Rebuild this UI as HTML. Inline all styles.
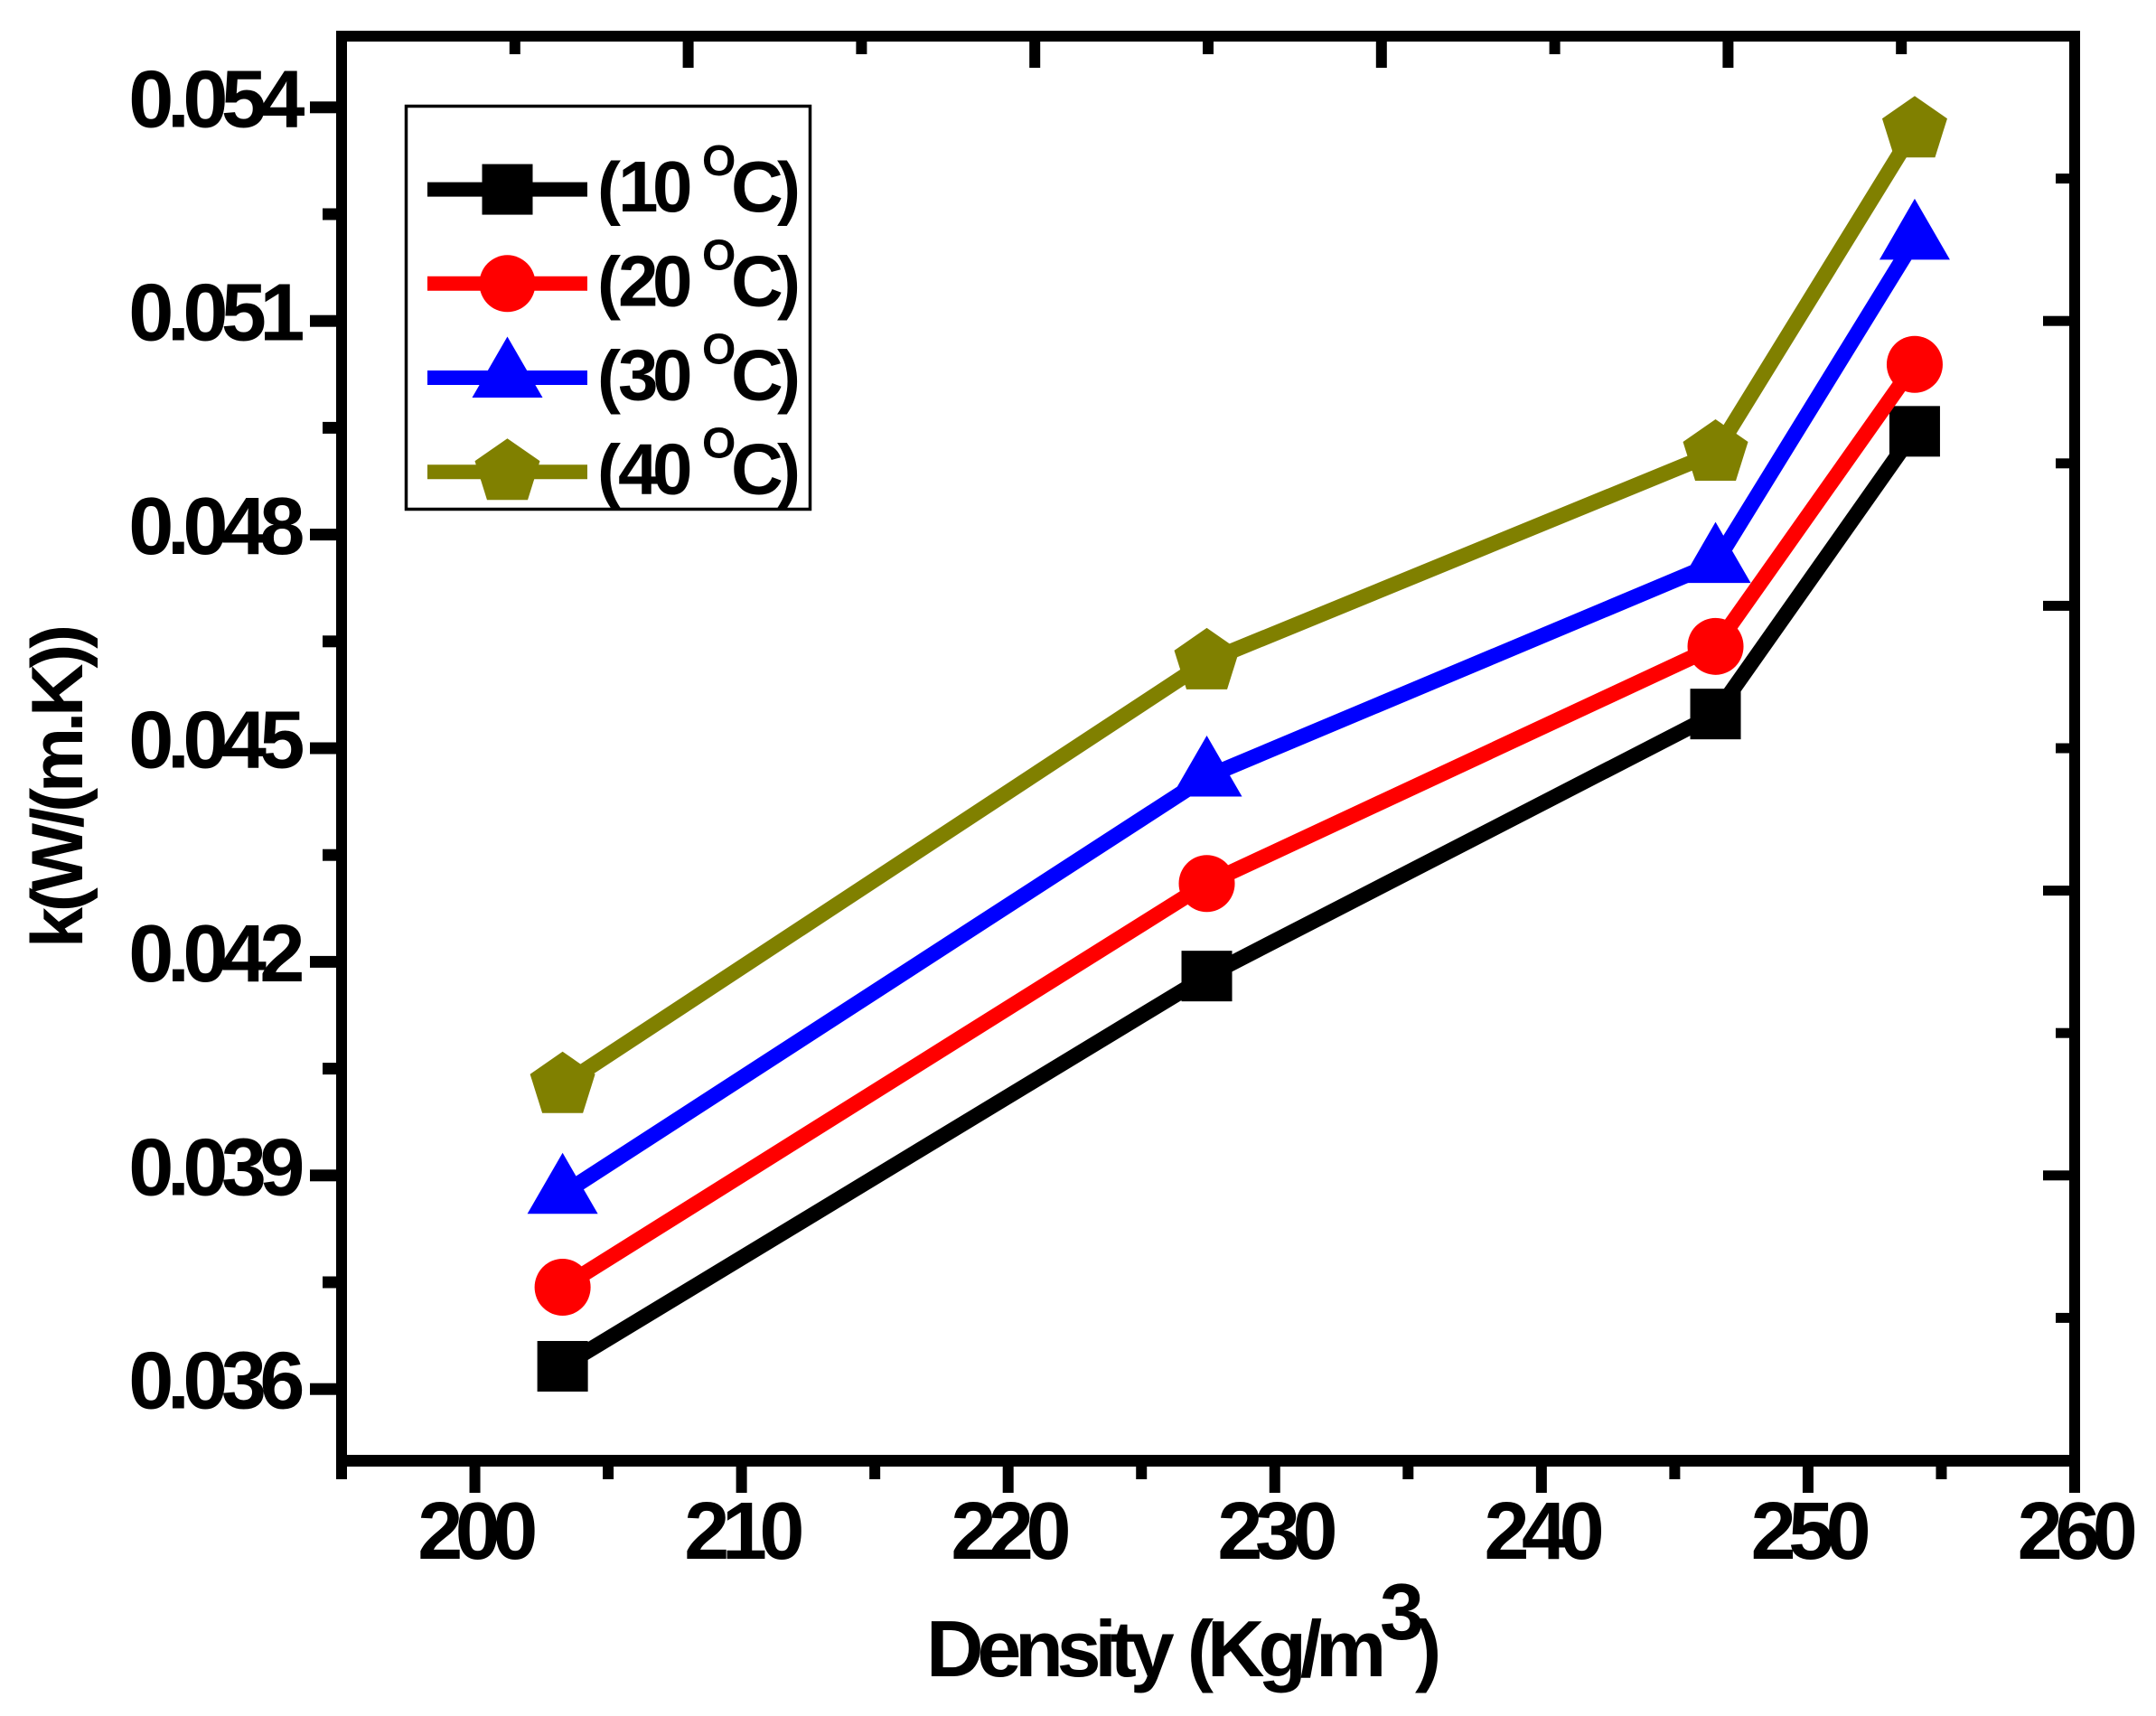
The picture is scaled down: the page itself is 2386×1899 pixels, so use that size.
<!DOCTYPE html>
<html lang="en">
<head>
<meta charset="utf-8">
<title>Thermal conductivity vs density</title>
<style>
html,body{margin:0;padding:0;background:#fff;}
svg{display:block;}
text{font-family:"Liberation Sans",Arial,sans-serif;font-weight:bold;fill:#000;font-kerning:none;}
</style>
</head>
<body>
<svg id="chart" xmlns="http://www.w3.org/2000/svg" width="2386" height="1899" viewBox="0 0 2386 1899">
<rect x="0" y="0" width="2386" height="1899" fill="#fff"/>
<g id="series-layer"></g>
<g id="axes-layer"></g>
<g id="legend-layer">
<rect x="449.5" y="117.5" width="447" height="446" fill="none" stroke="#000" stroke-width="3.5"/>
</g>
<text transform="translate(91,1049) rotate(-90)" font-size="81" letter-spacing="-5.2">k(W/(m.K))</text>
<g>
<text x="1025" y="1855" font-size="88" letter-spacing="-7.2">Density <tspan dx="4">(Kg/m</tspan></text>
<text x="1527" y="1814" font-size="88">3</text>
<text x="1566" y="1855" font-size="88">)</text>
</g>
</svg>
<script>
const densities = [203.29, 227.45, 246.53, 254.0];
const k10 = [0.03632, 0.0418, 0.04548, 0.04945];
const k20 = [0.03743, 0.0431, 0.04643, 0.05039];
const k30 = [0.03874, 0.0446, 0.0476, 0.05214];
const k40 = [0.04027, 0.04622, 0.04915, 0.05369];
const seriesLabels = ["10", "20", "30", "40"];
const xMajorTicks = [200, 210, 220, 230, 240, 250, 260];
const xMinorTicks = [195, 205, 215, 225, 235, 245, 255];
const yMajorTicks = [0.036, 0.039, 0.042, 0.045, 0.048, 0.051, 0.054];
const yMinorTicks = [0.0375, 0.0405, 0.0435, 0.0465, 0.0495, 0.0525];
const topMajorTicks = [208, 221, 234, 247];
const topMinorTicks = [201.5, 214.5, 227.5, 240.5, 253.5];
const rightMajorTicks = [0.039, 0.043, 0.047, 0.051];
const rightMinorTicks = [0.037, 0.041, 0.045, 0.049, 0.053];
const xTickLabels = ["200", "210", "220", "230", "240", "250", "260"];
const yTickLabels = ["0.036", "0.039", "0.042", "0.045", "0.048", "0.051", "0.054"];

const X_MIN = 195, X_MAX = 260, Y_MIN = 0.035, Y_MAX = 0.055;
const PX_LEFT = 378, PX_RIGHT = 2296, PX_TOP = 40, PX_BOTTOM = 1616;
const NS = "http://www.w3.org/2000/svg";
const colors = ["#000000", "#ff0000", "#0000ff", "#808000"];
const shapes = ["square", "circle", "triangle", "pentagon"];
const allSeries = [k10, k20, k30, k40];

function xScale(v) { return PX_LEFT + (v - X_MIN) / (X_MAX - X_MIN) * (PX_RIGHT - PX_LEFT); }
function yScale(v) { return PX_BOTTOM - (v - Y_MIN) / (Y_MAX - Y_MIN) * (PX_BOTTOM - PX_TOP); }

const seriesLayer = document.getElementById("series-layer");
const axesLayer = document.getElementById("axes-layer");
const legendLayer = document.getElementById("legend-layer");

function rect(parent, x, y, w, h) {
  const el = document.createElementNS(NS, "rect");
  el.setAttribute("x", x);
  el.setAttribute("y", y);
  el.setAttribute("width", w);
  el.setAttribute("height", h);
  el.setAttribute("fill", "#000");
  parent.appendChild(el);
  return el;
}

function marker(parent, kind, cx, cy, color) {
  let el;
  if (kind === "circle") {
    el = document.createElementNS(NS, "ellipse");
    el.setAttribute("cx", cx);
    el.setAttribute("cy", cy);
    el.setAttribute("rx", 31);
    el.setAttribute("ry", 31.5);
  } else if (kind === "square") {
    el = document.createElementNS(NS, "rect");
    el.setAttribute("x", cx - 28);
    el.setAttribute("y", cy - 28);
    el.setAttribute("width", 56);
    el.setAttribute("height", 56);
  } else if (kind === "triangle") {
    el = document.createElementNS(NS, "polygon");
    el.setAttribute("points", [[cx, cy - 45.5], [cx + 39, cy + 22], [cx - 39, cy + 22]].map(p => p.join(",")).join(" "));
  } else {
    el = document.createElementNS(NS, "polygon");
    el.setAttribute("points", [[cx, cy - 37], [cx + 36, cy - 12], [cx + 22.5, cy + 31], [cx - 22.5, cy + 31], [cx - 36, cy - 12]].map(p => p.join(",")).join(" "));
  }
  el.setAttribute("fill", color);
  parent.appendChild(el);
  return el;
}

allSeries.forEach(function (values, s) {
  const g = document.createElementNS(NS, "g");
  
  
  seriesLayer.appendChild(g);
  const line = document.createElementNS(NS, "polyline");
  
  
  line.setAttribute("points", values.map((v, i) => xScale(densities[i]) + "," + yScale(v)).join(" "));
  line.setAttribute("fill", "none");
  line.setAttribute("stroke", colors[s]);
  line.setAttribute("stroke-width", 17);
  g.appendChild(line);
  values.forEach(function (v, i) {
    const m = marker(g, shapes[s], xScale(densities[i]), yScale(v), colors[s]);
    
    
  });
});

const spineTop = rect(axesLayer, 372, 34, 1930, 12);


const spineBottom = rect(axesLayer, 372, 1610, 1930, 13);


const spineLeft = rect(axesLayer, 372, 34, 12, 1589);


const spineRight = rect(axesLayer, 2290, 34, 12, 1589);



xMajorTicks.forEach(function (v, i) {
  const t = rect(axesLayer, xScale(v) - 6, 1620, 12, 32);
  
  
  const label = document.createElementNS(NS, "text");
  
  
  label.setAttribute("x", xScale(v) - 1);
  label.setAttribute("y", 1725);
  label.setAttribute("font-size", 90);
  label.setAttribute("letter-spacing", -8.5);
  label.setAttribute("text-anchor", "middle");
  label.textContent = xTickLabels[i];
  axesLayer.appendChild(label);
});
xMinorTicks.forEach(function (v) {
  const t = rect(axesLayer, xScale(v) - 6, 1620, 12, 17);
  
  
});
yMajorTicks.forEach(function (v, i) {
  const t = rect(axesLayer, 343, yScale(v) - 6.5, 32, 13);
  
  
  const label = document.createElementNS(NS, "text");
  
  
  label.setAttribute("x", 330);
  label.setAttribute("y", yScale(v) + 21.5);
  label.setAttribute("font-size", 90);
  label.setAttribute("letter-spacing", -7.5);
  label.setAttribute("text-anchor", "end");
  label.textContent = yTickLabels[i];
  axesLayer.appendChild(label);
});
yMinorTicks.forEach(function (v) {
  const t = rect(axesLayer, 357, yScale(v) - 6.5, 18, 13);
  
  
});
topMajorTicks.forEach(function (v) {
  const t = rect(axesLayer, xScale(v) - 6, 44, 12, 31);
  
  
});
topMinorTicks.forEach(function (v) {
  const t = rect(axesLayer, xScale(v) - 6, 44, 12, 16);
  
  
});
rightMajorTicks.forEach(function (v) {
  const t = rect(axesLayer, 2261, yScale(v) - 5.5, 31, 11);
  
  
});
rightMinorTicks.forEach(function (v) {
  const t = rect(axesLayer, 2275, yScale(v) - 5.5, 17, 11);
  
  
});

function legendText(parent, x, y, size, spacing, str) {
  const el = document.createElementNS(NS, "text");
  el.setAttribute("x", x);
  el.setAttribute("y", y);
  el.setAttribute("font-size", size);
  el.setAttribute("letter-spacing", spacing);
  el.textContent = str;
  parent.appendChild(el);
  return el;
}

seriesLabels.forEach(function (name, s) {
  const rowY = 209.6 + s * 104.2;
  const g = document.createElementNS(NS, "g");
  
  
  legendLayer.appendChild(g);
  const sw = document.createElementNS(NS, "line");
  
  
  sw.setAttribute("x1", 473);
  sw.setAttribute("x2", 650);
  sw.setAttribute("y1", rowY);
  sw.setAttribute("y2", rowY);
  sw.setAttribute("stroke", colors[s]);
  sw.setAttribute("stroke-width", 16);
  g.appendChild(sw);
  const m = marker(g, shapes[s], 561.5, rowY, colors[s]);
  
  
  const open = legendText(g, 661, rowY + 24.5, 78, 0, "(");
  
  
  const num = legendText(g, 684, rowY + 24.5, 80, -6.5, name);
  
  
  const deg = legendText(g, 777, rowY - 15.5, 48, 0, "O");
  
  
  const unit = legendText(g, 809, rowY + 24.5, 80, 0, "C");
  
  
  const close = legendText(g, 860, rowY + 24.5, 78, 0, ")");
  
  
});
</script>
</body>
</html>
